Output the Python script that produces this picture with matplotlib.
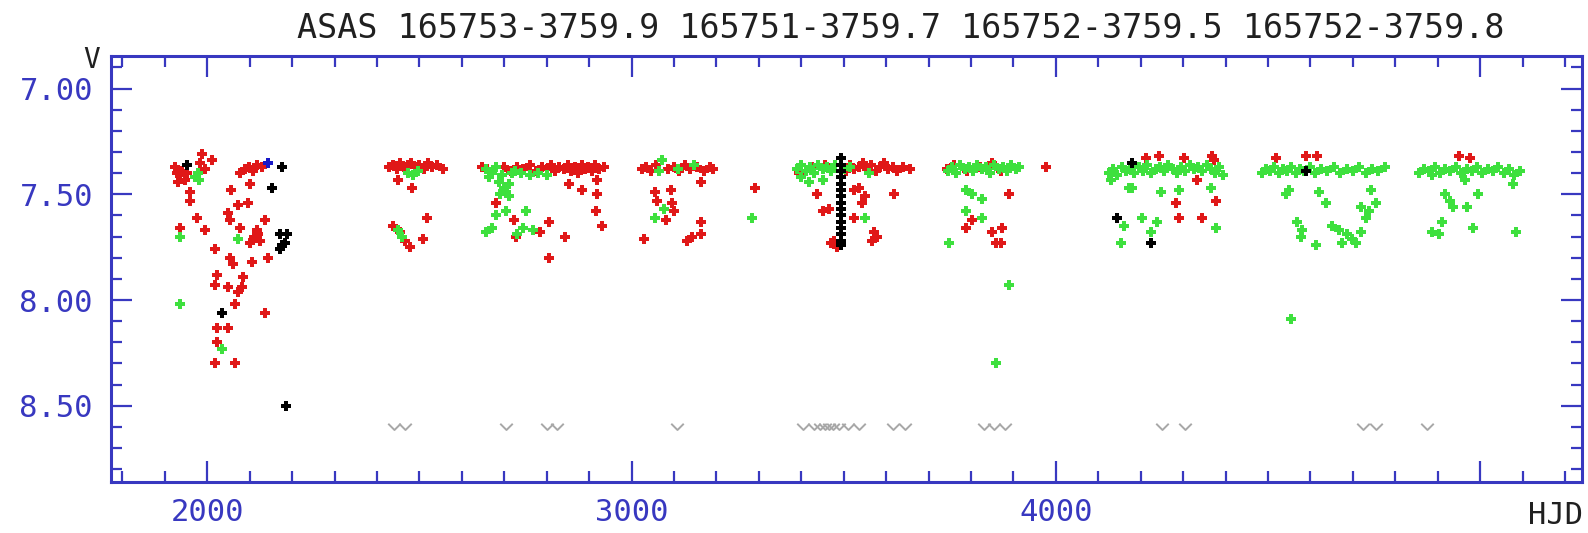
import matplotlib
matplotlib.use("Agg")
import matplotlib.pyplot as plt
from matplotlib.path import Path

# ---------------- data (HJD-2450000, V mag) ----------------
red_hjd = [1923, 1930, 1935, 1940, 1947, 1951, 1928, 1982, 1987, 1995, 2010, 1959, 1959, 1975, 1935,
           1994, 2017, 2057, 2100, 2072, 2095, 2048, 2053, 2076, 2116, 2123, 2100, 2135, 2053, 2060,
           2105, 2142, 2024, 2017, 2083, 2081, 2048, 2072, 2065, 2135, 2024, 2048, 2024, 2017, 2065,
           2076, 2088, 2098, 2108, 2118, 2128, 2110, 2120,
           2428, 2438, 2447, 2455, 2463, 2472, 2480, 2490, 2500, 2510, 2520, 2530, 2542, 2555, 2449,
           2482, 2437, 2453, 2465, 2477, 2517, 2508,
           2648, 2660, 2700, 2715, 2730, 2745, 2760, 2775, 2790, 2800, 2810, 2820, 2830, 2840, 2850,
           2858, 2866, 2874, 2882, 2890, 2898, 2906, 2914, 2922, 2935,
           2681, 2724, 2728, 2783, 2806, 2842, 2806, 2853, 2882, 2919, 2919, 2917, 2931,
           3025, 3035, 3045, 3058, 3085, 3100, 3112, 3125, 3138, 3155, 3170, 3185, 3192,
           3164, 3054, 3094, 3061, 3096, 3101, 3082, 3164, 3030, 3131, 3143, 3164, 3290,
           3395, 3425, 3455, 3505, 3515, 3525, 3535, 3545, 3555, 3565, 3575, 3585, 3595, 3605, 3615,
           3625, 3640, 3655, 3438, 3525, 3537, 3549, 3544, 3450, 3466, 3525, 3619, 3477, 3470, 3572,
           3579, 3567, 3485,
           3743, 3760, 3790, 3820, 3850, 3870, 3977, 3890, 3802, 3788, 3849, 3873, 3859, 3871,
           4212, 4243, 4301, 4367, 4372, 4332, 4282, 4377, 4289, 4344,
           4518, 4589, 4615,
           4949, 4977]
red_mag = [7.37, 7.44, 7.41, 7.39, 7.43, 7.40, 7.40, 7.35, 7.31, 7.38, 7.34, 7.49, 7.53, 7.61, 7.66,
           7.67, 7.76, 7.48, 7.45, 7.55, 7.54, 7.59, 7.62, 7.66, 7.67, 7.72, 7.73, 7.62, 7.80, 7.83,
           7.82, 7.80, 7.88, 7.93, 7.89, 7.94, 7.94, 7.96, 8.02, 8.06, 8.13, 8.13, 8.20, 8.30, 8.30,
           7.40, 7.38, 7.37, 7.39, 7.36, 7.37, 7.70, 7.69,
           7.37, 7.36, 7.38, 7.35, 7.37, 7.36, 7.35, 7.37, 7.36, 7.38, 7.35, 7.37, 7.36, 7.38, 7.43,
           7.47, 7.65, 7.68, 7.72, 7.75, 7.61, 7.71,
           7.37, 7.38, 7.37, 7.39, 7.37, 7.38, 7.36, 7.39, 7.37, 7.38, 7.36, 7.39, 7.37, 7.38, 7.36,
           7.39, 7.37, 7.40, 7.36, 7.38, 7.37, 7.39, 7.36, 7.38, 7.37,
           7.54, 7.62, 7.70, 7.68, 7.63, 7.70, 7.80, 7.45, 7.48, 7.50, 7.43, 7.58, 7.65,
           7.38, 7.37, 7.39, 7.36, 7.38, 7.37, 7.39, 7.36, 7.38, 7.37, 7.39, 7.37, 7.38,
           7.44, 7.49, 7.48, 7.53, 7.54, 7.58, 7.62, 7.63, 7.71, 7.72, 7.70, 7.69, 7.47,
           7.40, 7.37, 7.36, 7.39, 7.36, 7.38, 7.37, 7.35, 7.38, 7.36, 7.39, 7.37, 7.35, 7.38, 7.37,
           7.39, 7.37, 7.38, 7.50, 7.48, 7.47, 7.51, 7.54, 7.58, 7.57, 7.61, 7.50, 7.72, 7.73, 7.68,
           7.70, 7.72, 7.75,
           7.38, 7.36, 7.39, 7.37, 7.35, 7.39, 7.37, 7.50, 7.62, 7.66, 7.68, 7.66, 7.73, 7.73,
           7.33, 7.32, 7.33, 7.32, 7.34, 7.43, 7.54, 7.53, 7.61, 7.61,
           7.33, 7.32, 7.32,
           7.32, 7.33]

green_hjd = [1977, 1980, 1972, 1935, 1935, 2072, 2034,
             2472, 2485, 2497, 2449, 2460,
             2658, 2665, 2672, 2680, 2688, 2695, 2700, 2705, 2712, 2718, 2690, 2710, 2725, 2740, 2760,
             2780, 2800, 2681, 2705, 2752, 2658, 2670, 2731, 2743, 2767,
             3072, 3148, 3065, 3110, 3077, 3054, 3283,
             3390, 3400, 3410, 3420, 3430, 3440, 3450, 3460, 3470, 3480, 3500, 3515, 3419, 3450, 3400,
             3549, 3560,
             3745, 3755, 3765, 3775, 3785, 3795, 3805, 3815, 3825, 3835, 3845, 3855, 3865, 3875, 3885,
             3895, 3905, 3912, 3788, 3802, 3826, 3788, 3826, 3748, 3890, 3859,
             4125, 4135, 4145, 4155, 4165, 4175, 4185, 4195, 4205, 4215, 4225, 4235, 4245, 4255, 4265,
             4275, 4285, 4295, 4305, 4315, 4325, 4335, 4345, 4355, 4365, 4375, 4385, 4395, 4129, 4172,
             4179, 4247, 4289, 4365, 4203, 4238, 4160, 4377, 4224, 4153,
             4485, 4495, 4505, 4515, 4525, 4535, 4545, 4555, 4565, 4575, 4585, 4600, 4610, 4625, 4640,
             4655, 4670, 4685, 4700, 4715, 4730, 4745, 4760, 4775, 4549, 4542, 4620, 4636, 4742, 4754,
             4737, 4730, 4718, 4568, 4580, 4577, 4612, 4650, 4667, 4686, 4698, 4674, 4707, 4718, 4553,
             4855, 4868, 4880, 4893, 4905, 4918, 4930, 4943, 4955, 4968, 4980, 4993, 5005, 5018, 5030,
             5043, 5055, 5068, 5080, 5095, 4886, 4965, 5078, 4918, 4930, 4937, 4996, 4968, 4909, 4886,
             4902, 4984, 5085]
green_mag = [7.40, 7.43, 7.42, 7.70, 8.02, 7.71, 8.23,
             7.40, 7.41, 7.39, 7.67, 7.70,
             7.38, 7.42, 7.40, 7.37, 7.44, 7.41, 7.47, 7.49, 7.45, 7.40, 7.50, 7.51, 7.39, 7.40, 7.41,
             7.40, 7.41, 7.60, 7.58, 7.58, 7.68, 7.66, 7.69, 7.66, 7.67,
             7.34, 7.36, 7.39, 7.38, 7.57, 7.61, 7.61,
             7.38, 7.36, 7.39, 7.37, 7.40, 7.36, 7.38, 7.37, 7.39, 7.36, 7.38, 7.37, 7.44, 7.43, 7.42,
             7.61, 7.40,
             7.39, 7.37, 7.40, 7.36, 7.38, 7.37, 7.39, 7.36, 7.38, 7.37, 7.40, 7.36, 7.38, 7.37, 7.39,
             7.36, 7.38, 7.37, 7.48, 7.50, 7.52, 7.58, 7.61, 7.73, 7.93, 8.30,
             7.40, 7.38, 7.41, 7.37, 7.39, 7.38, 7.40, 7.37, 7.39, 7.36, 7.40, 7.38, 7.37, 7.39, 7.36,
             7.38, 7.40, 7.37, 7.39, 7.36, 7.38, 7.37, 7.39, 7.36, 7.38, 7.40, 7.37, 7.41, 7.43, 7.47,
             7.47, 7.49, 7.48, 7.47, 7.61, 7.63, 7.65, 7.66, 7.68, 7.73,
             7.40, 7.38, 7.39, 7.37, 7.40, 7.38, 7.39, 7.37, 7.40, 7.38, 7.39, 7.37, 7.40, 7.38, 7.39,
             7.37, 7.40, 7.38, 7.39, 7.37, 7.40, 7.38, 7.39, 7.37, 7.48, 7.50, 7.49, 7.54, 7.48, 7.54,
             7.58, 7.61, 7.56, 7.63, 7.67, 7.70, 7.74, 7.65, 7.67, 7.69, 7.71, 7.73, 7.73, 7.68, 8.09,
             7.40, 7.38, 7.39, 7.37, 7.40, 7.38, 7.39, 7.37, 7.40, 7.38, 7.39, 7.37, 7.40, 7.38, 7.39,
             7.37, 7.40, 7.38, 7.41, 7.39, 7.41, 7.43, 7.45, 7.50, 7.53, 7.56, 7.50, 7.56, 7.63, 7.68,
             7.69, 7.66, 7.68]

black_hjd = [1951, 2034, 2175, 2152, 2171, 2187, 2176, 2171, 2182, 2185,
             3494, 3494, 3494, 3494, 3494, 3494, 3494, 3494, 3494, 3494, 3494, 3494, 3494, 3494, 3494,
             4179, 4144, 4224, 4589]
black_mag = [7.36, 8.06, 7.37, 7.47, 7.69, 7.69, 7.74, 7.76, 7.73, 8.50,
             7.33, 7.36, 7.39, 7.42, 7.45, 7.48, 7.51, 7.54, 7.57, 7.60, 7.63, 7.66, 7.69, 7.72, 7.74,
             7.35, 7.61, 7.73, 7.39]

blue_hjd = [2142]
blue_mag = [7.35]

limit_hjd = [2440, 2465, 2705, 2800, 2825, 3108, 3405, 3430, 3445, 3455, 3465, 3475, 3490, 3510,
             3535, 3615, 3645, 3830, 3855, 3880, 4250, 4305, 4725, 4755, 4875]
limit_mag = [8.60] * len(limit_hjd)

x_ticks = [2000, 3000, 4000, 5000]
x_labels = ['2000', '3000', '4000', '']
y_ticks = [7.0, 7.5, 8.0, 8.5]
y_labels = ['7.00', '7.50', '8.00', '8.50']
title = 'ASAS 165753-3759.9 165751-3759.7 165752-3759.5 165752-3759.8'

# ---------------- drawing ----------------
W, H = 1588, 533
fig = plt.figure(figsize=(W / 100, H / 100), dpi=100)
fig.patch.set_facecolor('white')
ax = fig.add_axes([111 / W, 1 - 481.5 / H, (1582 - 111) / W, (481.5 - 56) / H])

blue = '#3838C0'
ax.set_xlim(1773, 5240)
ax.set_ylim(8.858, 6.846)

mk = dict(marker='P', markersize=7.8, linestyle='none', markeredgewidth=0)
ax.plot(red_hjd, red_mag, color='#E01818', **mk)
ax.plot(green_hjd, green_mag, color='#3EE03E', **mk)
ax.plot(black_hjd, black_mag, color='black', **mk)
ax.plot(blue_hjd, blue_mag, color='#1818C8', **mk)

chevron = Path([(-1, 0.6), (0, -0.4), (1, 0.6)], [Path.MOVETO, Path.LINETO, Path.LINETO])
ax.plot(limit_hjd, limit_mag, linestyle='none', marker=chevron, markersize=9,
        markerfacecolor='none', markeredgecolor='#A8A8A8', markeredgewidth=1.4)

ax.set_xticks(x_ticks)
ax.set_xticklabels(x_labels)
ax.set_xticks(range(1800, 5300, 100), minor=True)
ax.set_yticks(y_ticks)
ax.set_yticklabels(y_labels)
ax.set_yticks([round(7.0 + 0.1 * i - 0.1, 2) for i in range(0, 20)], minor=True)

ax.tick_params(which='both', direction='in', top=True, right=True, color=blue,
               labelcolor=blue, labelsize=22)
ax.tick_params(which='major', length=15, width=1.6)
ax.tick_params(which='minor', length=8, width=1.6)
ax.tick_params(axis='y', which='major', pad=13)
ax.tick_params(axis='x', which='major', pad=12)
for lab in ax.get_xticklabels() + ax.get_yticklabels():
    lab.set_family('DejaVu Sans Mono')
for sp in ax.spines.values():
    sp.set_color(blue)
    sp.set_linewidth(2.2)

fig.text(901 / W, 1 - 29 / H, title, ha='center', va='center', fontsize=24,
         family='DejaVu Sans Mono', color='#202020')
fig.text(92 / W, 1 - 60 / H, 'V', ha='center', va='center', fontsize=20,
         family='DejaVu Sans Mono', color='#202020')
fig.text(1583 / W, 1 - 515 / H, 'HJD', ha='right', va='center', fontsize=22,
         family='DejaVu Sans Mono', color='#202020')

fig.savefig('out.png', dpi=100, facecolor='white')
